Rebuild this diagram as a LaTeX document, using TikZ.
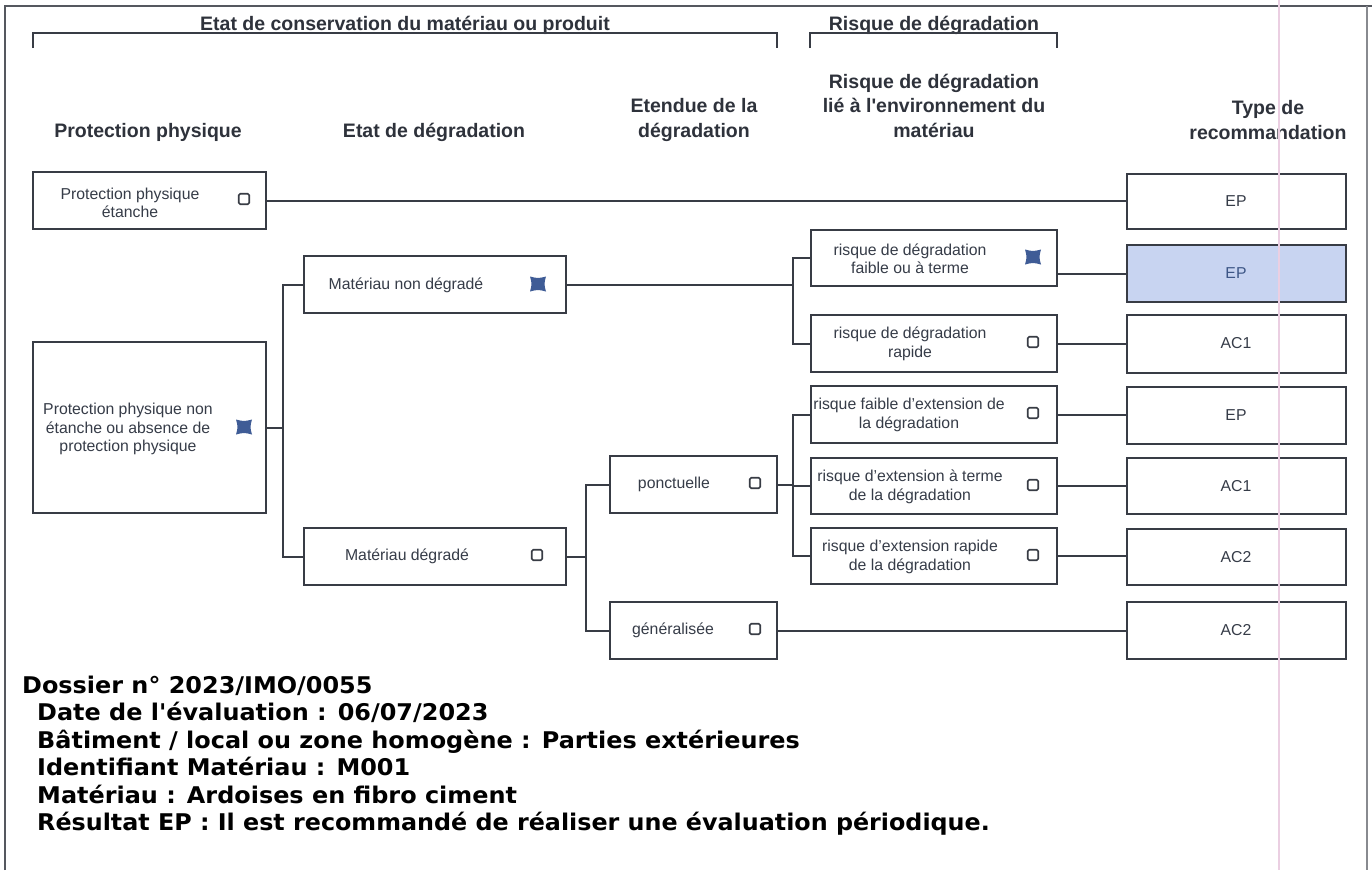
\documentclass[tikz,border=0pt]{standalone}
\usepackage{fontspec}
\setmainfont{Liberation Sans}
\newfontfamily\djv{DejaVu Sans}
\usepackage{graphicx}
\definecolor{lc}{HTML}{383C45}
\definecolor{tc}{HTML}{363C48}
\definecolor{hc}{HTML}{2E323B}
\definecolor{chkblue}{HTML}{3F5C96}
\definecolor{epfill}{HTML}{C8D4F1}
\definecolor{pinkl}{HTML}{EBCFE2}
\definecolor{framec}{HTML}{55585F}
\begin{document}
\begin{tikzpicture}[x=1pt,y=-1pt,
  box/.style={draw=lc, line width=2.4, anchor=north west, inner sep=0, fill=white},
  conn/.style={draw=lc, line width=2.0},
  brk/.style={draw=lc, line width=1.9},
  btxt/.style={font=\fontsize{15.8}{18.5}\selectfont, text=tc, align=center, inner sep=0},
  ttxt/.style={font=\fontsize{15.8}{18.5}\selectfont, text=tc, inner sep=0},
  hdr/.style={font=\bfseries\fontsize{19.5}{24.5}\selectfont, text=hc, anchor=base, inner sep=0},
  bot/.style={font=\djv\bfseries\fontsize{23}{27}\selectfont, text=black, anchor=base west, inner sep=0},
  chk/.style={draw=lc, line width=1.6, minimum size=10.5, inner sep=0, rounded corners=1.5},
  chkon/.style={minimum size=17, inner sep=0, path picture={
    \fill[chkblue] ([shift={(-8,-7.5)}]path picture bounding box.center)
      .. controls +(8,2) .. ++(16,0)
      .. controls +(-2,7.5) .. ++(0,15)
      .. controls +(-8,-2) .. ++(-16,0)
      .. controls +(2,-7.5) .. ++(0,-15) -- cycle;}},
]
\useasboundingbox (0,0) rectangle (1372,870);
\fill[white] (0,0) rectangle (1372,870);

% frame
\draw[framec, line width=1.5] (5,870) -- (5,6) -- (1372,6);
\draw[framec!70, line width=1.3] (1367,6) -- (1367,870);

% titles and brackets
\node[hdr] (h0) at (405,30) {Etat de conservation du matériau ou produit};
\node[hdr] (h1) at (934,30) {Risque de dégradation};
\draw[brk] (33,48) -- (33,33) -- (777,33) -- (777,48);
\draw[brk] (810,48) -- (810,33) -- (1057,33) -- (1057,48);

% column headers
\node[hdr] (hp) at (148,137) {Protection physique};
\node[hdr] (he) at (434,137) {Etat de dégradation};
\node[hdr] (hx1) at (694,112) {Etendue de la};
\node[hdr] (hx2) at (694,137) {dégradation};
\node[hdr] (hr1) at (934,88) {Risque de dégradation};
\node[hdr] (hr2) at (934,112) {lié à l\textquotesingle environnement du};
\node[hdr] (hr3) at (934,137) {matériau};
\node[hdr] (ht1) at (1268,114) {Type de};
\node[hdr] (ht2) at (1268,139) {recommandation};

% column 1
\node[box, minimum width=233, minimum height=57] (b1) at (32,171) {};
\node[btxt] (b1t) at (130,203) {Protection physique\\étanche};
\node[chk] (c1) at (244,199) {};
\node[box, minimum width=233, minimum height=171] (b2) at (32,341) {};
\node[btxt] (b2t) at (128,429) {Protection physique non\\étanche ou absence de\\protection physique};
\node[chkon] (c2) at (244,427) {};

% column 2
\node[box, minimum width=262, minimum height=57] (b3) at (303,255) {};
\node[btxt] (b3t) at (406,285) {Matériau non dégradé};
\node[chkon] (c3) at (538,284) {};
\node[box, minimum width=262, minimum height=57] (b4) at (303,527) {};
\node[btxt] (b4t) at (407,556) {Matériau dégradé};
\node[chk] (c4) at (537,555) {};

% column 3
\node[box, minimum width=167, minimum height=57] (b5) at (609,455) {};
\node[btxt] (b5t) at (674,484) {ponctuelle};
\node[chk] (c5) at (755,483) {};
\node[box, minimum width=167, minimum height=57] (b6) at (609,601) {};
\node[btxt] (b6t) at (673,630) {généralisée};
\node[chk] (c6) at (755,629) {};

% column 4
\node[box, minimum width=246, minimum height=56] (r1) at (810,229) {};
\node[btxt] (r1t) at (910,259) {risque de dégradation\\faible ou à terme};
\node[chkon] (c7) at (1033,257) {};
\node[box, minimum width=246, minimum height=57] (r2) at (810,314) {};
\node[btxt] (r2t) at (910,344) {risque de dégradation\\rapide};
\node[chk] (c8) at (1033,342) {};
\node[box, minimum width=246, minimum height=57] (r3) at (810,385) {};
\node[btxt] (r3t) at (909,415) {risque faible d’extension de\\la dégradation};
\node[chk] (c9) at (1033,413) {};
\node[box, minimum width=246, minimum height=56] (r4) at (810,457) {};
\node[btxt] (r4t) at (910,487) {risque d’extension à terme\\de la dégradation};
\node[chk] (c10) at (1033,485) {};
\node[box, minimum width=246, minimum height=56] (r5) at (810,527) {};
\node[btxt] (r5t) at (910,557) {risque d’extension rapide\\de la dégradation};
\node[chk] (c11) at (1033,555) {};

% column 5
\node[box, minimum width=219, minimum height=55] (t0) at (1126,173) {};
\node[ttxt] (t0t) at (1236,201) {EP};
\node[box, minimum width=219, minimum height=57, fill=epfill] (t1) at (1126,244) {};
\node[ttxt, text=chkblue!80!tc] (t1t) at (1236,273) {EP};
\node[box, minimum width=219, minimum height=58] (t2) at (1126,314) {};
\node[ttxt] (t2t) at (1236,343) {AC1};
\node[box, minimum width=219, minimum height=57] (t3) at (1126,386) {};
\node[ttxt] (t3t) at (1236,415) {EP};
\node[box, minimum width=219, minimum height=56] (t4) at (1126,457) {};
\node[ttxt] (t4t) at (1236,486) {AC1};
\node[box, minimum width=219, minimum height=56] (t5) at (1126,528) {};
\node[ttxt] (t5t) at (1236,557) {AC2};
\node[box, minimum width=219, minimum height=57] (t6) at (1126,601) {};
\node[ttxt] (t6t) at (1236,630) {AC2};

% junction columns
\coordinate (j1) at (283,0);
\coordinate (j2) at (793,0);
\coordinate (j3) at (586,0);

% connectors
\draw[conn] (b1.east) -- (b1.east -| t0.west);
\draw[conn] (b2.east) -- (b2.east -| j1);
\draw[conn] (b3.west) -- (b3.west -| j1) -- (b4.west -| j1) -- (b4.west);
\draw[conn] (b3.east) -- (b3.east -| j2);
\draw[conn] (r1.west) -- (r1.west -| j2) -- (r2.west -| j2) -- (r2.west);
\draw[conn] (b4.east) -- (b4.east -| j3);
\draw[conn] (b5.west) -- (b5.west -| j3) -- (b6.west -| j3) -- (b6.west);
\draw[conn] (b5.east) -- (b5.east -| j2);
\draw[conn] (r3.west) -- (r3.west -| j2) -- (r5.west -| j2) -- (r5.west);
\draw[conn] (r4.west) -- (r4.west -| j2);
\draw[conn] (t1.west -| r1.east) -- (t1.west);
\draw[conn] (r2.east) -- (r2.east -| t2.west);
\draw[conn] (r3.east) -- (r3.east -| t3.west);
\draw[conn] (r4.east) -- (r4.east -| t4.west);
\draw[conn] (r5.east) -- (r5.east -| t5.west);
\draw[conn] (b6.east) -- (b6.east -| t6.west);

% bottom text
\node[bot] (d1) at (22,693) {\scalebox{1.04}[1]{Dossier n° 2023/IMO/0055}};
\node[bot] (d2) at (37,720.5) {\scalebox{1.04}[1]{Date de l\textquotesingle évaluation : 06/07/2023}};
\node[bot] (d3) at (37,748) {\scalebox{1.04}[1]{Bâtiment / local ou zone homogène : Parties extérieures}};
\node[bot] (d4) at (37,775.5) {\scalebox{1.04}[1]{Identifiant Matériau : M001}};
\node[bot] (d5) at (37,803) {\scalebox{1.04}[1]{Matériau : Ardoises en fibro ciment}};
\node[bot] (d6) at (37,830.5) {\scalebox{1.035}[1]{Résultat EP : Il est recommandé de réaliser une évaluation périodique.}};

% scan margin line
\draw[pinkl, line width=1.2] (1279,0) -- (1279,870);
\end{tikzpicture}
\end{document}
